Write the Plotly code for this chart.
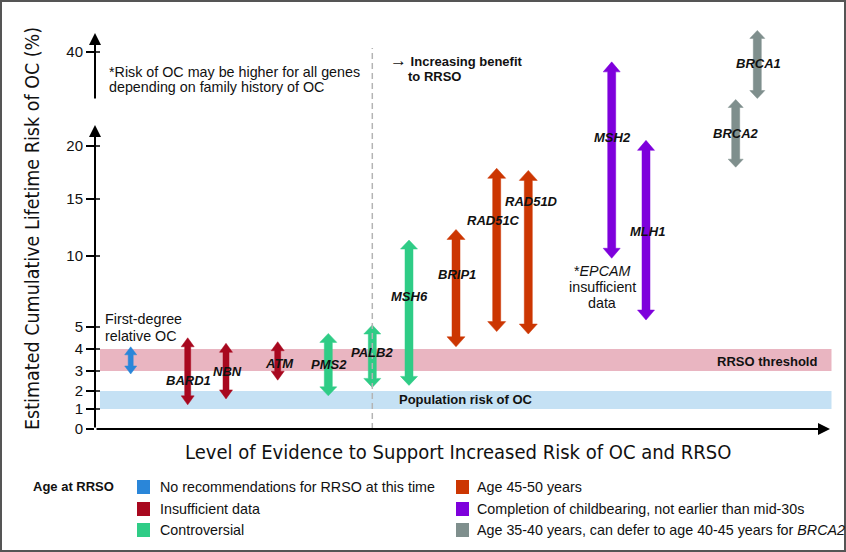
import numpy as np
import plotly.graph_objects as go

# ---------------- data ----------------
genes = ["First-degree relative OC", "BARD1", "NBN", "ATM", "PMS2", "PALB2", "MSH6",
         "BRIP1", "RAD51C", "RAD51D", "MSH2", "MLH1", "BRCA2", "BRCA1"]
evidence_level = [35.7, 92.7, 131.0, 182.7, 233.3, 277.3, 314.0,
                  361.0, 401.7, 433.3, 516.7, 551.0, 640.7, 662.3]
risk_low = [2.85, 1.23, 1.56, 2.54, 1.73, 2.18, 2.28,
            4.10, 4.79, 4.68, 9.84, 5.49, 18.0, 30.1]
risk_high = [4.10, 4.51, 4.26, 4.33, 4.71, 5.14, 11.4,
             12.33, 17.9, 17.7, 37.9, 21.2, 29.9, 44.6]
group = ["none", "insufficient", "insufficient", "insufficient", "controversial",
         "controversial", "controversial", "45-50", "45-50", "45-50",
         "childbearing", "childbearing", "35-40", "35-40"]

ytick_values = [0, 1, 2, 3, 4, 5, 10, 15, 20, 40]
rrso_threshold = [3, 4]
population_risk = [1, 2]

legend_groups = ["none", "insufficient", "controversial", "45-50", "childbearing", "35-40"]
legend_labels = ["No recommendations for RRSO at this time",
                 "Insufficient data",
                 "Controversial",
                 "Age 45-50 years",
                 "Completion of childbearing, not earlier than mid-30s",
                 "Age 35-40 years, can defer to age 40-45 years for <i>BRCA2</i>"]

# ---------------- scale (broken, piecewise axis) ----------------
SCALE_VALUES = [0, 1, 2, 3, 4, 5, 10, 15, 20, 40, 50]
SCALE_POS = [0, 20, 38, 58, 80, 102, 173, 230, 283, 377, 424]


def to_disp(v):
    return float(np.interp(v, SCALE_VALUES, SCALE_POS))


# ---------------- styles ----------------
COLORS = {"none": "#2a86d9", "insufficient": "#a8081f", "controversial": "#2fcc86",
          "45-50": "#cc3602", "childbearing": "#7e00dc", "35-40": "#7f8f8d"}
ARROW_DIMS = {"none": (5, 12, 8), "insufficient": (6, 13, 9), "controversial": (8, 17, 9),
              "45-50": (8, 18, 10), "childbearing": (8, 17, 10), "35-40": (8, 15, 8)}
FONT = "Liberation Sans, Arial, Helvetica, sans-serif"
NARROW = "DejaVu Sans Condensed, Liberation Sans, Arial, sans-serif"

W, H = 846, 552
ML, MR, MT, MB = 95, 11, 20, 123
PW, PH = W - ML - MR, H - MT - MB


def px_paper(px, py):
    return (px - ML) / PW, (H - MB - py) / PH


fig = go.Figure()

# bands
for (lo, hi), col in [(rrso_threshold, "#e9b5c1"), (population_risk, "#c5e1f4")]:
    fig.add_shape(type="rect", xref="x", yref="y", x0=5, x1=736.5,
                  y0=to_disp(lo), y1=to_disp(hi), fillcolor=col, line_width=0, layer="below")

# arrows
for g, xc, lo, hi, grp in zip(genes, evidence_level, risk_low, risk_high, group):
    sw, hw, hh = ARROW_DIMS[grp]
    d0, d1 = to_disp(lo), to_disp(hi)
    xs = [xc, xc + hw / 2, xc + sw / 2, xc + sw / 2, xc + hw / 2, xc,
          xc - hw / 2, xc - sw / 2, xc - sw / 2, xc - hw / 2, xc]
    ys = [d0, d0 + hh, d0 + hh, d1 - hh, d1 - hh, d1,
          d1 - hh, d1 - hh, d0 + hh, d0 + hh, d0]
    fig.add_trace(go.Scatter(x=xs, y=ys, mode="lines", fill="toself",
                             fillcolor=COLORS[grp], line=dict(color=COLORS[grp], width=0.5),
                             hoverinfo="text", text=f"{g}: {lo}-{hi}%", showlegend=False))

# gene labels (center positions in axis units)
label_pos = {"BARD1": (93, 49), "NBN": (132, 58), "ATM": (184, 66), "PMS2": (233.5, 65),
             "PALB2": (277, 77), "MSH6": (314, 133), "BRIP1": (362, 155),
             "RAD51C": (398.5, 209), "RAD51D": (436, 228), "MSH2": (517, 292),
             "MLH1": (552, 198), "BRCA1": (663, 366), "BRCA2": (641, 296)}
for g, (lx, ly) in label_pos.items():
    fig.add_annotation(x=lx, y=ly, xref="x", yref="y", text=f"<b><i>{g}</i></b>",
                       showarrow=False, font=dict(family=FONT, size=13, color="#111"))

# dashed divider
fig.add_shape(type="line", xref="x", yref="y", x0=277.3, x1=277.3, y0=0, y1=381,
              line=dict(color="#b4b4b4", width=1.5, dash="6px,4px"), layer="above")

# axes lines with arrowheads
for (x0, y0, x1, y1) in [(0, 0, 0, 304), (0, 329, 0, 396), (0, 0, 735, 0)]:
    fig.add_annotation(x=x1, y=y1, ax=x0, ay=y0, xref="x", yref="y", axref="x", ayref="y",
                       text="", showarrow=True, arrowhead=2, arrowsize=1.2, arrowwidth=2,
                       arrowcolor="black", standoff=0)

# inner part of tick marks
for v in ytick_values[1:]:
    fig.add_shape(type="line", xref="x", yref="y", x0=0, x1=5, y0=to_disp(v), y1=to_disp(v),
                  line=dict(color="black", width=1.5))


# free texts inside plot
def txt(x, y, s, anchor="left", size=14.3, bold=False):
    fig.add_annotation(x=x, y=y, xref="x", yref="y", text=(f"<b>{s}</b>" if bold else s),
                       showarrow=False, xanchor=anchor, yanchor="middle",
                       font=dict(family=FONT, size=size, color="#111"))


txt(12, 357.3, "*Risk of OC may be higher for all genes")
txt(12, 341.7, "depending on family history of OC")
txt(293, 369, "<span style='font-size:17px'>→</span> Increasing benefit", size=13, bold=True)
txt(311, 353, "to RRSO", size=13, bold=True)
txt(8, 109.7, "First-degree")
txt(8, 93, "relative OC")
txt(507, 158.3, "*<i>EPCAM</i>", anchor="center")
txt(507, 141.7, "insufficient", anchor="center")
txt(507, 125.7, "data", anchor="center")
txt(724, 67.3, "RRSO threshold", anchor="right", size=13, bold=True)
txt(302, 29.7, "Population risk of OC", size=13, bold=True)

# axis titles
px_, py_ = px_paper(32, 229)
fig.add_annotation(x=px_, y=py_, xref="paper", yref="paper", showarrow=False, textangle=-90,
                   xanchor="center", yanchor="middle",
                   text="Estimated Cumulative Lifetime Risk of OC (%)",
                   font=dict(family=NARROW, size=19.5, color="#111"))
px_, py_ = px_paper(458, 452)
fig.add_annotation(x=px_, y=py_, xref="paper", yref="paper", showarrow=False,
                   xanchor="center", yanchor="middle",
                   text="Level of Evidence to Support Increased Risk of OC and RRSO",
                   font=dict(family=NARROW, size=20, color="#111"))

# legend (manual)
px_, py_ = px_paper(31, 487)
fig.add_annotation(x=px_, y=py_, xref="paper", yref="paper", showarrow=False,
                   xanchor="left", yanchor="middle",
                   text="<b>Age at RRSO</b>", font=dict(family=FONT, size=13, color="#111"))
rows_y = [487, 509, 530]
cols = [(137, 158), (456, 475)]
for i, (grp, lab) in enumerate(zip(legend_groups, legend_labels)):
    c, r = divmod(i, 3)
    sx, tx = cols[c]
    ry = rows_y[r]
    x0p, y0p = px_paper(sx, ry + 7)
    x1p, y1p = px_paper(sx + 13, ry - 7)
    fig.add_shape(type="rect", xref="paper", yref="paper", x0=x0p, x1=x1p, y0=y0p, y1=y1p,
                  fillcolor=COLORS[grp], line_width=0)
    tpx, tpy = px_paper(tx, ry)
    fig.add_annotation(x=tpx, y=tpy, xref="paper", yref="paper", showarrow=False,
                       xanchor="left", yanchor="middle", text=lab,
                       font=dict(family=FONT, size=14.3, color="#111"))

# outer frame
x0p, y0p = px_paper(1, 551)
x1p, y1p = px_paper(845, 1)
fig.add_shape(type="rect", xref="paper", yref="paper", x0=x0p, x1=x1p, y0=y0p, y1=y1p,
              line=dict(color="#555", width=2), fillcolor="rgba(0,0,0,0)")

fig.update_layout(
    width=W, height=H, margin=dict(l=ML, r=MR, t=MT, b=MB),
    paper_bgcolor="white", plot_bgcolor="white", showlegend=False,
    xaxis=dict(range=[0, PW], visible=False, fixedrange=True),
    yaxis=dict(range=[0, PH], showgrid=False, zeroline=False, showline=False,
               tickmode="array", tickvals=[to_disp(v) for v in ytick_values],
               ticktext=[str(v) for v in ytick_values], ticks="outside", ticklen=8,
               tickwidth=1.5, tickcolor="black",
               tickfont=dict(family=FONT, size=15, color="#111"), fixedrange=True),
)

fig.write_html("out.html", config={"displayModeBar": False},
               post_script="document.body.style.margin='0px';")
